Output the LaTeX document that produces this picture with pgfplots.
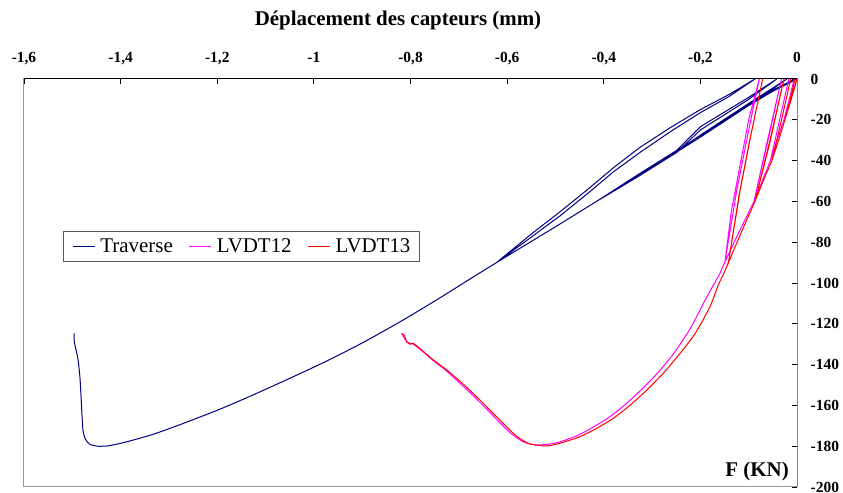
\documentclass[border=0pt]{standalone}
\usepackage{fontspec}
\setmainfont{Liberation Serif}
\usepackage{pgfplots}
\pgfplotsset{compat=1.18}
\definecolor{navyc}{RGB}{0,0,128}
\definecolor{magc}{RGB}{255,0,255}
\definecolor{redc}{RGB}{255,0,0}
\begin{document}
\begin{tikzpicture}
\begin{axis}[
  scale only axis,
  width=773bp, height=408bp,
  xmin=-1.6, xmax=0, ymin=-200, ymax=0,
  xtick={-1.6,-1.4,-1.2,-1,-0.8,-0.6,-0.4,-0.2,0},
  ytick={-200,-180,-160,-140,-120,-100,-80,-60,-40,-20,0},
  xtick pos=right, ytick pos=right,
  xticklabel pos=right, yticklabel pos=right,
  tick align=inside,
  major tick length=5bp,
  tick style={black, line width=0.8bp},
  axis line style={draw=black!40, line width=1bp},
  /pgf/number format/.cd, use comma, fixed, precision=1, assume math mode=true,
  /pgfplots/.cd,
  xticklabel style={font=\fontsize{15.5}{18}\selectfont\bfseries, anchor=base, inner sep=0pt, yshift=16bp},
  yticklabel style={font=\fontsize{15.5}{18}\selectfont\bfseries, anchor=west, inner sep=0pt, xshift=13.5bp},
  legend columns=3,
  legend cell align=left,
  legend image code/.code={\draw[#1] (0bp,0bp) -- (22bp,0bp);},
  legend style={
    at={(axis description cs:0.0505,0.627)}, anchor=north west,
    draw=black!65, line width=0.8bp,
    font=\fontsize{21}{24}\selectfont,
    inner xsep=9bp, inner ysep=7bp,
    nodes={inner sep=0pt},
    /tikz/every odd column/.append style={column sep=5bp},
    /tikz/every even column/.append style={column sep=16bp},
  },
]
% Traverse: cycles
\addplot[navyc, line width=1bp] coordinates {
(0,0) (-0.05,-6) (-0.10,-13) (-0.15,-20) (-0.08,-9) (-0.004,0)
(-0.07,-8) (-0.15,-20) (-0.21,-30) (-0.277,-40)
(-0.2,-27.5) (-0.1,-12) (-0.021,0)
(-0.1,-13) (-0.2,-28.5) (-0.277,-40) (-0.35,-50.5) (-0.415,-60)
(-0.33,-47) (-0.249,-35) (-0.2,-23.4) (-0.1,-9) (-0.042,0)
(-0.1,-10) (-0.2,-25) (-0.249,-36) (-0.33,-48) (-0.415,-60)
(-0.49,-71) (-0.622,-90)
(-0.55,-76) (-0.49,-65) (-0.43,-53.5) (-0.38,-43.5) (-0.325,-33.5) (-0.26,-23.5) (-0.2,-15) (-0.14,-7.5) (-0.087,0)
(-0.14,-8.5) (-0.2,-16.5) (-0.26,-25.5) (-0.325,-36) (-0.38,-45.5) (-0.43,-55.5) (-0.49,-67) (-0.55,-77.5) (-0.622,-90)
};
\addlegendentry{Traverse}
% Traverse: final envelope
\addplot[navyc, line width=1bp, smooth, tension=0.4, forget plot] coordinates {
(-0.622,-90) (-0.68,-98.5) (-0.746,-108.3) (-0.82,-118.8) (-0.90,-129.4)
(-0.98,-139) (-1.057,-147.5) (-1.13,-155.3) (-1.196,-162) (-1.27,-168.8)
(-1.333,-174.2) (-1.39,-178) (-1.425,-179.8) (-1.448,-180) (-1.464,-179)
(-1.473,-176.5) (-1.478,-172) (-1.481,-160) (-1.484,-147) (-1.488,-137.7)
(-1.494,-131) (-1.496,-128.5) (-1.496,-124.7)
};
% LVDT12: cycles
\addplot[magc, line width=1bp] coordinates {
(0,0) (-0.013,-10) (-0.027,-20) (-0.016,-10) (-0.006,0)
(-0.016,-10) (-0.027,-20) (-0.041,-30) (-0.055,-40)
(-0.036,-20) (-0.017,0) (-0.036,-20) (-0.055,-40) (-0.072,-50) (-0.089,-60)
(-0.06,-30) (-0.032,0) (-0.062,-31) (-0.089,-60) (-0.12,-75) (-0.149,-89.5)
(-0.125,-55) (-0.1,-25) (-0.078,0)
(-0.1,-20) (-0.12,-45) (-0.136,-65) (-0.149,-89.5)
};
\addlegendentry{LVDT12}
\addplot[magc, line width=1bp, smooth, tension=0.4, forget plot] coordinates {
(-0.149,-89.5) (-0.16,-95.5) (-0.173,-101) (-0.190,-108.3) (-0.22,-122) (-0.255,-134.5)
(-0.29,-144.5) (-0.323,-152.5) (-0.36,-160.5) (-0.392,-166.3) (-0.43,-171.8)
(-0.46,-175.3) (-0.50,-178.5) (-0.539,-179.4) (-0.565,-178) (-0.585,-175)
(-0.6,-172) (-0.615,-168.5) (-0.656,-158.5) (-0.69,-150.8) (-0.725,-143.2)
(-0.753,-138) (-0.775,-133.5) (-0.794,-130) (-0.808,-128.8) (-0.818,-124.7)
};
% LVDT13: cycles
\addplot[redc, line width=1bp] coordinates {
(0,0) (-0.012,-10) (-0.025,-20) (-0.014,-10) (-0.004,0)
(-0.014,-10) (-0.025,-20) (-0.038,-30) (-0.052,-40)
(-0.032,-20) (-0.013,0) (-0.032,-20) (-0.052,-40) (-0.07,-50) (-0.087,-60)
(-0.056,-30) (-0.027,0) (-0.056,-31) (-0.087,-60) (-0.115,-75) (-0.142,-90)
(-0.118,-55) (-0.095,-27) (-0.071,0)
(-0.097,-29) (-0.12,-57) (-0.142,-90)
};
\addlegendentry{LVDT13}
\addplot[redc, line width=1bp, smooth, tension=0.4, forget plot] coordinates {
(-0.142,-90) (-0.152,-95.5) (-0.163,-101) (-0.18,-111.5) (-0.21,-124.5) (-0.242,-134.5)
(-0.276,-144) (-0.311,-152.5) (-0.345,-159.8) (-0.380,-166.3) (-0.415,-171.3)
(-0.449,-175.3) (-0.49,-178.5) (-0.518,-179.9) (-0.553,-178.9) (-0.575,-176)
(-0.587,-173.7) (-0.615,-167.2) (-0.656,-157.4) (-0.69,-149.8) (-0.725,-142.6)
(-0.753,-137.7) (-0.775,-133.2) (-0.794,-129.6) (-0.801,-130) (-0.808,-128.8)
(-0.812,-126) (-0.818,-124.7)
};
\draw[black, line width=1bp] (rel axis cs:0,1) -- (rel axis cs:1,1) -- (rel axis cs:1,0);
\end{axis}
\node[anchor=base, font=\fontsize{21}{24}\selectfont\bfseries, inner sep=0pt] at (374bp,461bp) {Déplacement des capteurs (mm)};
\node[anchor=base east, font=\fontsize{21}{24}\selectfont\bfseries, inner sep=0pt] at (765bp,10.3bp) {F (KN)};
\pgfresetboundingbox
\path[use as bounding box] (-24bp,-6bp) rectangle (819bp,487bp);
\end{tikzpicture}
\end{document}
